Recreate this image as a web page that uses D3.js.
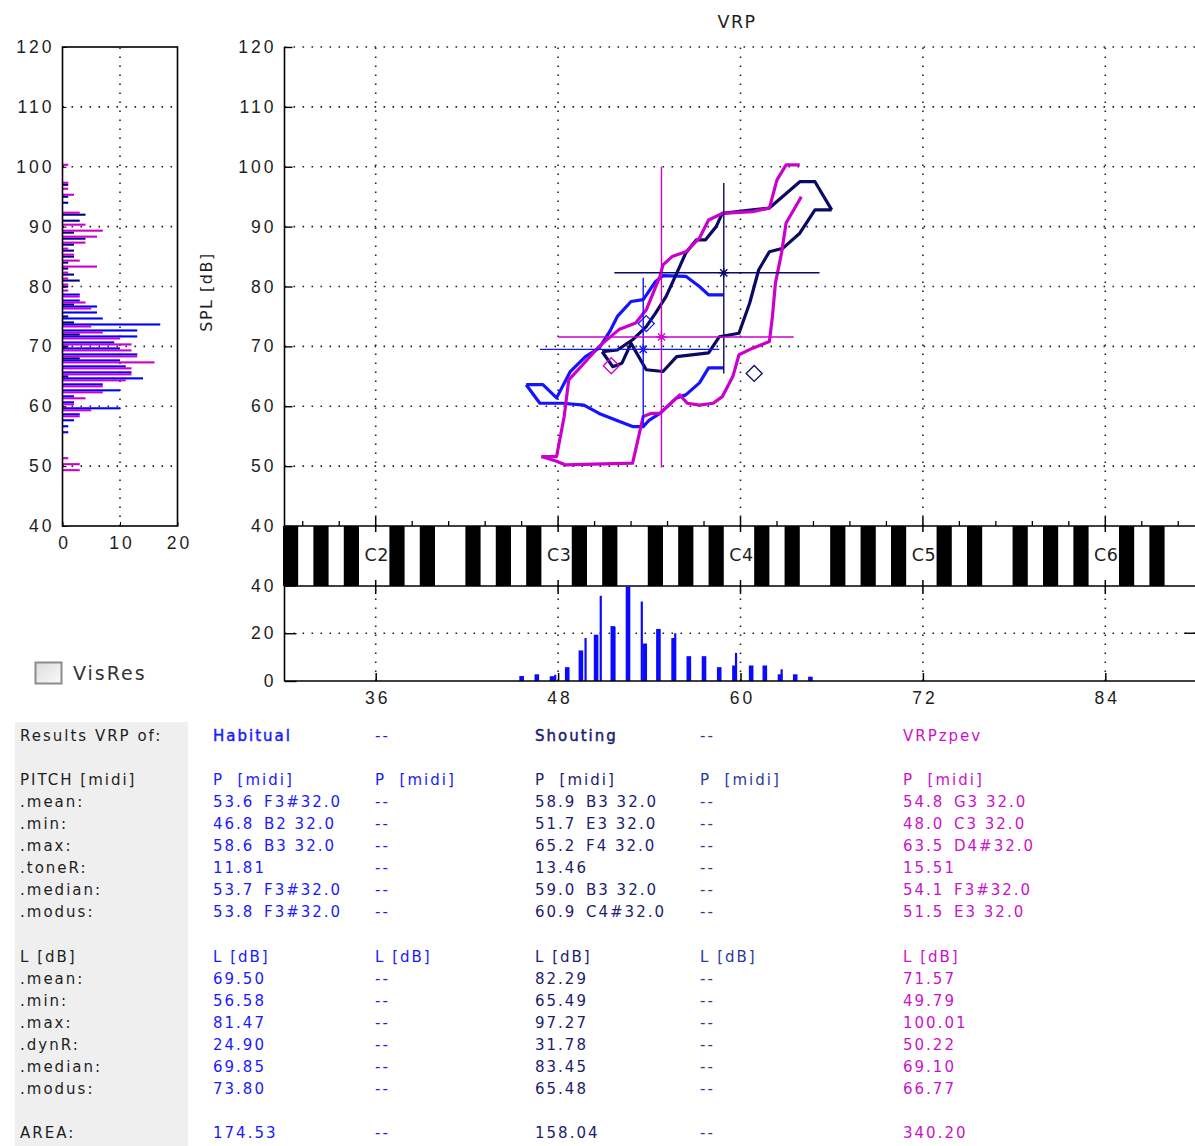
<!DOCTYPE html>
<html lang="en">
<head>
<meta charset="UTF-8">
<title>VRP</title>
<script src="https://d3js.org/d3.v7.min.js"></script>
<style>
  body { margin: 0; padding: 0; background: #fff; overflow: hidden; }
  svg { display: block; font-family: "DejaVu Sans", sans-serif; }
  .tick text, .lbl { font-size: 17.5px; letter-spacing: 3px; fill: #1e1e1e; }
  .tbl { font-size: 15px; letter-spacing: 2px; }
  .grid { stroke: #222; stroke-width: 1.6; stroke-dasharray: 1.6 7.4; fill: none; }
</style>
</head>
<body>
<svg id="chart" width="1195" height="1146"></svg>
<script>
// ---- series / statistics ----
const seriesNames  = ["Habitual", "Shouting", "VRPzpev"];
const lineColors   = ["#1414ff", "#0a0a64", "#cc00cc"];
const textColors   = ["#1a1aff", "#1c1c70", "#cc11cc"];

const pitchMean   = [53.6, 58.9, 54.8];
const pitchMin    = [46.8, 51.7, 48.0];
const pitchMax    = [58.6, 65.2, 63.5];
const toneRange   = [11.81, 13.46, 15.51];
const pitchMedian = [53.7, 59.0, 54.1];
const pitchModus  = [53.8, 60.9, 51.5];
const meanNote    = ["F3#32.0", "B3 32.0", "G3 32.0"];
const minNote     = ["B2 32.0", "E3 32.0", "C3 32.0"];
const maxNote     = ["B3 32.0", "F4 32.0", "D4#32.0"];
const medianNote  = ["F3#32.0", "B3 32.0", "F3#32.0"];
const modusNote   = ["F3#32.0", "C4#32.0", "E3 32.0"];

const levelMean   = [69.50, 82.29, 71.57];
const levelMin    = [56.58, 65.49, 49.79];
const levelMax    = [81.47, 97.27, 100.01];
const dynRange    = [24.90, 31.78, 50.22];
const levelMedian = [69.85, 83.45, 69.10];
const levelModus  = [73.80, 65.48, 66.77];
const area        = [174.53, 158.04, 340.20];

// ---- VRP contours [midi, dB] ----
const habitualUpper = [[45.9,63.6],[47.0,63.6],[47.9,61.4],[48.8,65.8],[49.8,68.3],[50.7,69.7],[51.4,72.5],[51.9,75.0],[52.8,77.5],[53.6,77.8],[54.4,80.8],[54.9,81.8],[56.4,81.7],[57.3,80.0],[57.9,78.6],[58.9,78.6]];
const habitualLower = [[45.9,63.6],[46.8,60.5],[48.3,60.5],[49.7,60.2],[50.7,58.8],[52.0,57.5],[52.9,56.6],[53.6,56.6],[54.0,57.7],[54.7,58.8],[55.8,61.4],[56.4,61.9],[57.3,63.9],[57.9,66.4],[58.9,66.4]];
const shoutingUpper = [[50.9,69.1],[51.9,69.4],[52.9,71.1],[53.8,73.3],[54.4,75.5],[55.1,78.3],[55.8,82.2],[56.4,85.6],[57.1,87.8],[57.7,87.8],[58.4,90.0],[58.8,92.2],[60.8,92.8],[61.9,93.1],[63.9,97.5],[64.9,97.5],[66.0,92.8]];
const shoutingLower = [[50.9,69.1],[51.6,66.6],[52.2,67.2],[52.8,70.5],[53.8,66.1],[54.9,65.8],[55.8,68.3],[57.9,68.9],[58.6,71.6],[59.9,72.2],[60.6,77.2],[61.2,82.8],[61.9,85.8],[62.8,86.4],[63.9,88.9],[64.9,92.8],[66.0,92.8]];
const zpevUpper = [[46.9,51.6],[47.9,51.6],[48.4,58.3],[48.7,64.4],[49.5,66.6],[50.7,70.0],[52.0,72.8],[53.1,73.9],[53.8,76.1],[54.7,81.7],[54.9,83.6],[55.5,85.0],[56.4,85.8],[57.3,88.1],[57.9,91.1],[58.8,92.2],[60.8,92.5],[61.9,93.1],[62.4,97.8],[63.0,100.3],[63.9,100.3]];
const zpevLower = [[46.9,51.6],[47.9,50.8],[48.5,50.2],[52.9,50.5],[53.1,52.7],[53.6,58.3],[54.1,58.8],[54.7,58.8],[56.0,61.9],[56.5,60.5],[57.3,60.2],[58.2,60.5],[58.8,61.6],[59.5,65.0],[59.9,68.6],[60.8,69.7],[61.9,70.8],[62.1,75.0],[62.3,80.6],[62.7,85.6],[63.0,90.6],[64.0,95.0]];
const contours = [[habitualUpper, habitualLower], [shoutingUpper, shoutingLower], [zpevUpper, zpevLower]];

// ---- SPL histogram (left), bins in dB ----
const splBins = [49,50,51,52,53,54,55,56,57,58,59,60,61,62,63,64,65,66,67,68,69,70,71,72,73,74,75,76,77,78,79,80,81,82,83,84,85,86,87,88,89,90,91,92,93,94,95,96,97,98,99,100];
const splHabitual = [0,0,0,0,0,0,0,1,1,2,3,10,2,2,10,7,14,12,11,10,13,10,9,13,13,17,7,6,6,3,3,0,0,0,0,0,0,0,0,0,0,0,0,0,0,0,0,0,0,0,0,0];
const splShouting = [0,0,0,0,0,0,0,0,0,0,0,0,0,0,0,0,1,0,0,3,0,1,0,3,0,2,1,0,2,0,0,1,3,2,1,1,2,2,2,4,2,0,3,4,0,1,1,0,1,0,0,0];
const splZpev     = [3,3,1,0,0,0,0,0,0,3,5,2,4,7,7,11,12,12,16,13,12,12,10,7,5,0,0,5,4,3,1,1,1,1,6,3,2,1,4,6,7,4,0,3,0,0,2,1,1,0,0,1];
const splCounts = [splHabitual, splShouting, splZpev];

// ---- pitch histogram (bottom), bins in midi ----
const pitchBinsWide   = [45.6,46.6,47.6,48.6,49.5,50.5,51.6,52.6,53.7,54.6,55.6,56.6,57.6,58.6,59.6,60.7,61.6,62.6,63.6,64.6];
const pitchCountsWide = [2.1,2.8,2.0,5.8,12.8,19.4,23.0,39.6,15.7,21.8,18.0,10.4,10.4,5.8,6.5,6.5,6.5,2.8,2.8,1.8];
const pitchBinsThin   = [47.8,49.8,50.8,51.7,53.5,55.7,59.7,62.7];
const pitchCountsThin = [2.6,18.0,35.7,22.6,33.3,20.0,11.8,4.9];

// ---- axes ticks / labels ----
const splTicks = [40,50,60,70,80,90,100,110,120];
const midiTicks = [36,48,60,72,84];
const octaveLabels = ["C2","C3","C4","C5","C6"];
const histTicks = [0,20,40];
const leftHistTicks = [0,10,20];

const svg = d3.select("#chart");

const x  = d3.scaleLinear().domain([30, 90]).range([284.5, 1196.5]);
const y  = d3.scaleLinear().domain([40, 120]).range([526, 47]);
const yh = d3.scaleLinear().domain([0, 40]).range([681, 585.5]);
const xl = d3.scaleLinear().domain([0, 20]).range([62.5, 177.5]);
const yl = d3.scaleLinear().domain([40, 120]).range([526, 47]);

// ================= main VRP plot =================
const main = svg.append("g");

// grid
main.selectAll("line.hg").data(splTicks.filter(d => d > 40)).join("line")
  .attr("class", "grid")
  .attr("x1", x(30)).attr("x2", x(90))
  .attr("y1", d => y(d)).attr("y2", d => y(d));
main.selectAll("line.vg").data(midiTicks).join("line")
  .attr("class", "grid")
  .attr("x1", d => x(d)).attr("x2", d => x(d))
  .attr("y1", y(40)).attr("y2", y(120));

// y axis
const yAxis = main.append("g")
  .attr("transform", `translate(${x(30)},0)`)
  .call(d3.axisLeft(y).tickValues(splTicks).tickSizeInner(-8).tickSizeOuter(0).tickPadding(8));
yAxis.select(".domain").remove();
yAxis.selectAll(".tick line").attr("stroke", "#000").attr("stroke-width", 1.4);

// contours
const line = d3.line().x(d => x(d[0])).y(d => y(d[1]));
contours.forEach((pair, i) => {
  pair.forEach(pts => {
    main.append("path")
      .attr("d", line(pts))
      .attr("fill", "none")
      .attr("stroke", lineColors[i])
      .attr("stroke-width", 3.2)
      .attr("stroke-linejoin", "round");
  });
});

// crosshairs, means and modes
seriesNames.forEach((name, i) => {
  const g = main.append("g").attr("stroke", lineColors[i]).attr("fill", "none");
  g.append("line")
    .attr("x1", x(pitchMean[i])).attr("x2", x(pitchMean[i]))
    .attr("y1", y(levelMin[i])).attr("y2", y(levelMax[i]))
    .attr("stroke-width", 1.4);
  g.append("line")
    .attr("x1", x(pitchMin[i])).attr("x2", x(pitchMax[i]))
    .attr("y1", y(levelMean[i])).attr("y2", y(levelMean[i]))
    .attr("stroke-width", 1.4);
  g.append("path")
    .attr("transform", `translate(${x(pitchMean[i])},${y(levelMean[i])})`)
    .attr("d", "M-5,0H5M0,-5V5M-3.6,-3.6L3.6,3.6M-3.6,3.6L3.6,-3.6")
    .attr("stroke-width", 1.4);
  g.append("path")
    .attr("transform", `translate(${x(pitchModus[i])},${y(levelModus[i])})`)
    .attr("d", "M0,-8L8,0L0,8L-8,0Z")
    .attr("stroke-width", 1.3);
});

// left border through all panels
svg.append("line")
  .attr("x1", x(30)).attr("x2", x(30)).attr("y1", y(120)).attr("y2", yh(0))
  .attr("stroke", "#000").attr("stroke-width", 1.6);

// title and y label
svg.append("text").attr("class", "lbl")
  .attr("x", 737).attr("y", 28).attr("text-anchor", "middle")
  .style("font-size", "17.5px").style("letter-spacing", "1.5px")
  .text("VRP");
svg.append("text").attr("class", "lbl")
  .attr("transform", "translate(212,292) rotate(-90)")
  .attr("text-anchor", "middle")
  .style("font-size", "16px").style("letter-spacing", "1.5px")
  .text("SPL [dB]");

// ================= keyboard =================
const kb = svg.append("g");
kb.append("rect")
  .attr("x", x(30)).attr("y", 526).attr("width", x(90) - x(30)).attr("height", 60)
  .attr("fill", "#fff");
kb.selectAll("text.oct").data(midiTicks).join("text")
  .attr("class", "lbl")
  .attr("x", d => x(d) + 1).attr("y", 561)
  .attr("text-anchor", "middle")
  .style("letter-spacing", "0.5px").style("font-size", "17.5px")
  .text((d, i) => octaveLabels[i]);
const blackKeys = d3.range(30, 90).filter(n => [1, 3, 6, 8, 10].includes(n % 12));
kb.selectAll("rect.bk").data(blackKeys).join("rect")
  .attr("x", d => x(d - 0.1)).attr("y", 526)
  .attr("width", d => x(d + 0.9) - x(d - 0.1)).attr("height", 60)
  .attr("fill", "#000");
[526, 586].forEach(yy => kb.append("line")
  .attr("x1", x(30)).attr("x2", x(90)).attr("y1", yy).attr("y2", yy)
  .attr("stroke", "#000").attr("stroke-width", 1.6));
// main-axis x ticks (minor + major)
const minorTicks = d3.range(31.2, 90, 2.4).filter(d => !midiTicks.some(m => Math.abs(m - d) < 0.01));
kb.selectAll("line.mn").data(minorTicks).join("line")
  .attr("x1", d => x(d)).attr("x2", d => x(d)).attr("y1", 521).attr("y2", 526)
  .attr("stroke", "#000").attr("stroke-width", 1.3);
kb.selectAll("line.mj").data(midiTicks).join("line")
  .attr("x1", d => x(d)).attr("x2", d => x(d)).attr("y1", 517).attr("y2", 532)
  .attr("stroke", "#000").attr("stroke-width", 1.5);
kb.selectAll("line.mj2").data(midiTicks).join("line")
  .attr("x1", d => x(d)).attr("x2", d => x(d)).attr("y1", 580).attr("y2", 594)
  .attr("stroke", "#000").attr("stroke-width", 1.5);

// ================= pitch histogram =================
const ph = svg.append("g");
ph.append("line").attr("class", "grid")
  .attr("x1", x(30)).attr("x2", x(90)).attr("y1", yh(20)).attr("y2", yh(20));
ph.selectAll("line.vg").data(midiTicks).join("line")
  .attr("class", "grid")
  .attr("x1", d => x(d)).attr("x2", d => x(d)).attr("y1", yh(0)).attr("y2", 590);
ph.selectAll("rect.w").data(pitchBinsWide).join("rect")
  .attr("x", d => x(d) - 2.3).attr("width", 4.6)
  .attr("y", (d, i) => yh(pitchCountsWide[i]))
  .attr("height", (d, i) => yh(0) - yh(pitchCountsWide[i]))
  .attr("fill", "#0a0aff");
ph.selectAll("rect.t").data(pitchBinsThin).join("rect")
  .attr("x", d => x(d) - 1).attr("width", 2.2)
  .attr("y", (d, i) => yh(pitchCountsThin[i]))
  .attr("height", (d, i) => yh(0) - yh(pitchCountsThin[i]))
  .attr("fill", "#0a0aff");
ph.append("line")
  .attr("x1", x(30)).attr("x2", x(90)).attr("y1", yh(0)).attr("y2", yh(0))
  .attr("stroke", "#000").attr("stroke-width", 1.6);
const hy = ph.append("g")
  .attr("transform", `translate(${x(30)},0)`)
  .call(d3.axisLeft(yh).tickValues(histTicks).tickSizeInner(-12).tickSizeOuter(0).tickPadding(8));
hy.select(".domain").remove();
hy.selectAll(".tick line").attr("stroke", "#000").attr("stroke-width", 1.4);
ph.append("line")
  .attr("x1", x(90) - 12).attr("x2", x(90)).attr("y1", yh(20)).attr("y2", yh(20))
  .attr("stroke", "#000").attr("stroke-width", 1.4);
const hx = ph.append("g")
  .attr("transform", `translate(0,${yh(0)})`)
  .call(d3.axisBottom(x).tickValues(midiTicks).tickSizeInner(-8).tickSizeOuter(0).tickPadding(11));
hx.select(".domain").remove();
hx.selectAll(".tick line").attr("stroke", "#000").attr("stroke-width", 1.5);
hx.selectAll(".tick text").attr("dx", "1.5");

// ================= SPL histogram (left) =================
const lh = svg.append("g");
lh.selectAll("line.hg").data(splTicks.filter(d => d > 40 && d < 120)).join("line")
  .attr("class", "grid")
  .attr("x1", xl(0)).attr("x2", xl(20)).attr("y1", d => yl(d)).attr("y2", d => yl(d));
lh.append("line").attr("class", "grid")
  .attr("x1", xl(10)).attr("x2", xl(10)).attr("y1", yl(40)).attr("y2", yl(120));
const barOffset = [1, -1, -3];
const barColors = ["#0000ff", "#000080", "#cc00cc"];
splCounts.forEach((counts, i) => {
  lh.selectAll(null).data(splBins.filter((b, j) => counts[j] > 0)).join("rect")
    .attr("x", xl(0))
    .attr("y", d => yl(d) + barOffset[i])
    .attr("width", d => xl(counts[splBins.indexOf(d)]) - xl(0))
    .attr("height", 2.1)
    .attr("fill", barColors[i]);
});
lh.append("rect")
  .attr("x", xl(0)).attr("y", yl(120)).attr("width", xl(20) - xl(0)).attr("height", yl(40) - yl(120))
  .attr("fill", "none").attr("stroke", "#000").attr("stroke-width", 1.6);
const ly = lh.append("g")
  .attr("transform", `translate(${xl(0)},0)`)
  .call(d3.axisLeft(yl).tickValues(splTicks).tickSizeInner(-4).tickSizeOuter(0).tickPadding(8));
ly.select(".domain").remove();
ly.selectAll(".tick line").attr("stroke", "#000");
const lx = lh.append("g")
  .attr("transform", `translate(0,${yl(40)})`)
  .call(d3.axisBottom(xl).tickValues(leftHistTicks).tickSizeInner(-4).tickSizeOuter(0).tickPadding(11));
lx.select(".domain").remove();
lx.selectAll(".tick line").attr("stroke", "#000");
lx.selectAll(".tick text").attr("dx", "1.5");

// VisRes checkbox
const grad = svg.append("defs").append("linearGradient")
  .attr("id", "cb").attr("x1", 0).attr("y1", 0).attr("x2", 1).attr("y2", 1);
grad.append("stop").attr("offset", "0%").attr("stop-color", "#dcdcdc");
grad.append("stop").attr("offset", "100%").attr("stop-color", "#fafafa");
svg.append("rect").attr("x", 35.5).attr("y", 662.5).attr("width", 26).attr("height", 21)
  .attr("fill", "url(#cb)").attr("stroke", "#8c8c8c").attr("stroke-width", 2);
svg.append("text").attr("class", "lbl").attr("x", 73).attr("y", 680)
  .style("font-size", "19px").style("letter-spacing", "2px").style("fill", "#333")
  .text("VisRes");

// ================= results table =================
const tbl = svg.append("g").attr("class", "tbl");
tbl.append("rect").attr("x", 15).attr("y", 722).attr("width", 173).attr("height", 424).attr("fill", "#efefef");

const rowY = idx => 741 + idx * 22.05;
const colX = [213, 375, 535, 700, 903];
const emptyColColors = ["#1a1aff", "#2b3a9b"];
const f1 = d3.format(".1f"), f2 = d3.format(".2f");

const rows = [
  { idx: 0,  label: "Results VRP of:", kind: "name" },
  { idx: 2,  label: "PITCH [midi]", kind: "head", head: "P  [midi]" },
  { idx: 3,  label: ".mean:",   vals: pitchMean,   notes: meanNote,   fmt: f1 },
  { idx: 4,  label: ".min:",    vals: pitchMin,    notes: minNote,    fmt: f1 },
  { idx: 5,  label: ".max:",    vals: pitchMax,    notes: maxNote,    fmt: f1 },
  { idx: 6,  label: ".toneR:",  vals: toneRange,   fmt: f2 },
  { idx: 7,  label: ".median:", vals: pitchMedian, notes: medianNote, fmt: f1 },
  { idx: 8,  label: ".modus:",  vals: pitchModus,  notes: modusNote,  fmt: f1 },
  { idx: 10, label: "L [dB]", kind: "head", head: "L [dB]" },
  { idx: 11, label: ".mean:",   vals: levelMean,   fmt: f2 },
  { idx: 12, label: ".min:",    vals: levelMin,    fmt: f2 },
  { idx: 13, label: ".max:",    vals: levelMax,    fmt: f2 },
  { idx: 14, label: ".dynR:",   vals: dynRange,    fmt: f2 },
  { idx: 15, label: ".median:", vals: levelMedian, fmt: f2 },
  { idx: 16, label: ".modus:",  vals: levelModus,  fmt: f2 },
  { idx: 18, label: "AREA:",    vals: area,        fmt: f2 }
];

rows.forEach(r => {
  const yy = rowY(r.idx);
  tbl.append("text").attr("x", 20).attr("y", yy).attr("fill", "#1e1e1e")
    .style("white-space", "pre").text(r.label);
  seriesNames.forEach((name, i) => {
    const cx = colX[i * 2];
    if (r.kind === "name") {
      const t = tbl.append("text").attr("x", cx).attr("y", yy).attr("fill", textColors[i]).text(name);
      if (i < 2) t.attr("stroke", textColors[i]).attr("stroke-width", 0.45);
    } else if (r.kind === "head") {
      tbl.append("text").attr("x", cx).attr("y", yy).attr("fill", textColors[i])
        .style("white-space", "pre").text(r.head);
    } else {
      tbl.append("text").attr("x", cx).attr("y", yy).attr("fill", textColors[i]).text(r.fmt(r.vals[i]));
      if (r.notes) {
        tbl.append("text").attr("x", cx + 51).attr("y", yy).attr("fill", textColors[i])
          .style("white-space", "pre").text(r.notes[i]);
      }
    }
  });
  [1, 3].forEach((c, k) => {
    tbl.append("text").attr("x", colX[c]).attr("y", yy).attr("fill", emptyColColors[k])
      .style("white-space", "pre").text(r.kind === "head" ? r.head : "--");
  });
});
</script>
</body>
</html>
